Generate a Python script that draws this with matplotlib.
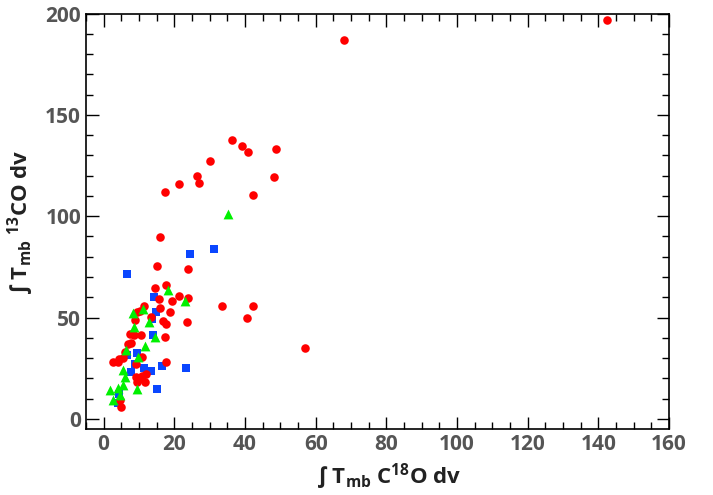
import matplotlib
matplotlib.use("Agg")
from matplotlib import pyplot as plt
from matplotlib.ticker import MultipleLocator

# ----------------------------------------
# Data
# ----------------------------------------
red_x = [142.4, 68.0, 36.3, 39.2, 40.8, 48.9, 30.0, 26.3, 21.2, 27.1, 17.4, 48.1,
         42.2, 16.0, 15.2, 23.8, 33.5, 42.4, 40.7, 56.9,
         14.4, 17.7, 21.2, 15.8, 19.3, 24.0, 11.3, 10.3, 15.9, 9.3, 18.9, 13.4,
         8.8, 16.7, 17.7, 23.6, 7.5, 8.7, 10.6, 17.4,
         6.8, 7.8, 5.9, 5.4, 4.4, 2.7, 4.0, 9.2, 17.7, 12.0, 10.9, 9.2, 9.9,
         9.3, 11.7, 4.7, 4.9, 10.8]
red_y = [197.0, 186.7, 137.8, 134.5, 131.7, 133.0, 127.0, 120.0, 115.8, 116.3, 112.0, 119.4,
         110.5, 89.5, 75.4, 73.9, 55.8, 55.7, 49.8, 35.0,
         64.7, 66.0, 60.6, 59.1, 58.0, 59.5, 55.8, 53.4, 54.8, 52.9, 52.9, 50.1,
         48.8, 48.3, 46.6, 47.8, 41.9, 41.4, 41.4, 40.2,
         36.9, 37.6, 33.2, 29.9, 29.4, 28.2, 28.2, 26.9, 28.2, 22.0, 21.2, 20.8, 19.6,
         18.4, 18.1, 9.4, 5.8, 30.4]

blue_x = [24.4, 31.1, 6.6, 14.2, 14.8, 13.7, 13.9, 9.3, 6.5, 9.0, 11.3, 13.4,
          16.4, 23.3, 7.6, 15.2, 4.4, 4.0]
blue_y = [81.4, 83.7, 71.3, 60.2, 52.9, 49.1, 41.4, 32.4, 31.5, 26.9, 25.3, 23.8,
          26.1, 25.3, 23.3, 14.6, 12.3, 7.7]

green_x = [35.2, 18.1, 23.1, 11.2, 8.2, 12.7, 8.5, 14.6, 11.8, 6.3, 9.6, 5.4,
           6.1, 5.6, 9.3, 1.9, 4.2, 4.6, 2.7]
green_y = [101.3, 63.5, 58.3, 54.0, 52.4, 47.9, 45.5, 40.2, 36.0, 34.0, 30.4, 24.1,
           20.5, 16.7, 14.8, 14.3, 15.1, 11.8, 9.4]

plt.rcParams['font.family'] = ['Open Sans', 'DejaVu Sans']
plt.rcParams['font.weight'] = 'bold'
plt.rcParams['axes.labelweight'] = 'bold'
plt.rcParams['mathtext.fontset'] = 'custom'
plt.rcParams['mathtext.rm'] = 'Open Sans:bold'
plt.rcParams['mathtext.bf'] = 'Open Sans:bold'
plt.rcParams['mathtext.default'] = 'bf'

fig = plt.figure(figsize=(7.13, 4.95), dpi=100)
ax = fig.add_axes([0.1206, 0.1333, 0.8177, 0.8394])

ax.scatter(blue_x, blue_y, marker='s', s=32, color='#0a46ff', linewidths=0, zorder=2)
ax.scatter(red_x, red_y, marker='o', s=38, color='#ff0000', linewidths=0, zorder=3)
ax.scatter(green_x, green_y, marker='^', s=50, color='#00f000', linewidths=0, zorder=4)

# ----------------------------------------
# Axes limits and ticks
# ----------------------------------------
ax.set_xlim(-5, 160)
ax.set_ylim(-5, 200)
ax.xaxis.set_major_locator(MultipleLocator(20))
ax.xaxis.set_minor_locator(MultipleLocator(5))
ax.yaxis.set_major_locator(MultipleLocator(50))
ax.yaxis.set_minor_locator(MultipleLocator(10))
ax.tick_params(which='both', direction='in', top=True, right=True,
               width=1.0, colors='black', labelcolor='#555555', labelsize=15)
ax.tick_params(which='major', length=9)
ax.tick_params(which='minor', length=5)
for spine in ax.spines.values():
    spine.set_linewidth(1.2)

ax.set_xlabel('∫ T$_{mb}$ C$^{18}$O dv', fontsize=16, fontweight='bold',
              color='#222222')
ax.set_ylabel('∫ T$_{mb}$ $^{13}$CO dv', fontsize=16, fontweight='bold',
              color='#222222', labelpad=7)
ax.xaxis.set_label_coords(0.52, -0.078)

plt.savefig('out.png', dpi=100)
